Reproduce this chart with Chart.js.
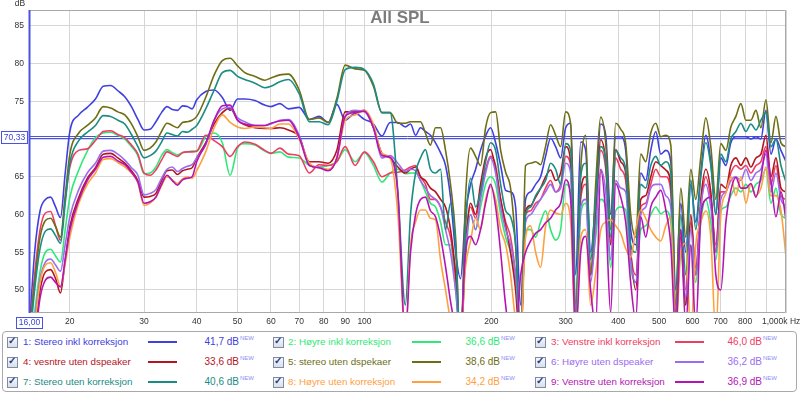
<!DOCTYPE html>
<html>
<head>
<meta charset="utf-8">
<title>All SPL</title>
<script src="https://cdn.jsdelivr.net/npm/chart.js@4.4.1/dist/chart.umd.min.js"></script>
<style>
  html, body { margin: 0; padding: 0; background: #fff; }
  #page { position: relative; width: 800px; height: 394px; overflow: hidden; font-family: "Liberation Sans", Arial, sans-serif; }
  #plot { position: absolute; left: 0; top: 0; width: 800px; height: 331px; }
  #legend { position: absolute; left: 2px; top: 331px; width: 793px; height: 59px; border: 1px solid #a9a9a9; border-radius: 4px; }
  .cb { position: absolute; width: 9px; height: 9px; border: 1px solid #7d8ca3; background: linear-gradient(#f6f7fa, #d9dee8); }
  .cb span { position: absolute; left: 0px; top: -3px; font-size: 10px; font-weight: bold; color: #263c8c; }
  .lbl { position: absolute; font-size: 9.8px; line-height: 14px; white-space: nowrap; }
  .smp { position: absolute; width: 29px; height: 2px; }
  .val { position: absolute; width: 60px; font-size: 10px; line-height: 14px; text-align: right; white-space: nowrap; }
  .new { position: absolute; font-size: 6px; line-height: 8px; color: #8d8df2; }
</style>
</head>
<body>
<div id="page">
  <div id="plot"><canvas id="spl"></canvas></div>
  <div id="legend"></div>
</div>
<script>
// frequencies (Hz) shared by all traces
const freqs = [16, 16.5, 17, 17.5, 18, 18.5, 19, 19.5, 20, 21,
  22, 23, 24, 25, 26, 27, 28, 29, 30, 31,
  32, 33, 34, 35, 36, 37, 38, 39, 40, 42,
  44, 46, 48, 50, 52, 55, 58, 60, 63, 66,
  70, 74, 78, 82, 86, 90, 95, 100, 105, 110,
  115, 120,
  125, 128.6, 132.2, 135.8, 139.5, 143.4, 147.4, 151.5, 155.7, 160,
  164.5, 169, 173.6, 178.5, 183.5, 188.5, 193.8, 199.1, 204.7, 210.4,
  216.2, 222.1, 228.3, 234.7, 241.1, 247.8, 254.7, 261.7, 268.9, 276.4,
  284.1, 292, 300.1, 308.4, 317, 325.8, 334.8, 344, 353.6, 363.4,
  373.5, 383.8, 394.4, 405.4, 416.6, 428.1, 440.1, 452.3, 464.8, 477.7,
  491, 504.6, 518.6, 532.9, 547.6, 562.8, 578.4, 594.5, 610.9, 627.9,
  645.2, 663.1, 681.6, 700.4, 720, 739.8, 760.5, 781.5, 803.2, 825.5,
  848.5, 872, 896.2, 921, 946.6, 972.8, 1000];

// SPL in dB, one array per measurement
const stereoInkl = [44, 55, 60.5, 62, 62.3, 61, 59.6, 65.5, 71, 73.2,
  74.2, 75.3, 77, 77.1, 76.4, 75.6, 74.3, 72.6, 71.2, 71.3,
  72.3, 73.5, 74.3, 73.9, 73.8, 74.4, 74.3, 74, 75.2, 76.3,
  76.5, 75.5, 73.8, 75.3, 75.3, 75.1, 74.5, 74.3, 74.7, 74,
  74.2, 72.6, 73, 72.2, 74.6, 72.5, 73.4, 72.6, 72, 70.4,
  72.2, 72.2,
  71.6, 72, 70.5, 71.5, 71, 70.5, 69.5, 68.2, 66.5, 62.3,
  55, 51.5, 60, 64, 66, 68.5, 70.4, 71.5, 69.5, 66.5,
  63.2, 63, 61, 48, 62, 63, 64, 65, 67.7, 70.1,
  69, 67.5, 71.5, 72.1, 52, 69.6, 68.5, 55, 62, 72,
  70.5, 60, 70.3, 70.3, 68.5, 58, 56, 65.5, 64.5, 68.5,
  71, 68, 68.5, 67, 50, 61.5, 55, 64, 59, 65.5,
  70.5, 67, 60, 67.5, 66.5, 69.5, 70.3, 70.3, 70.3, 70,
  70.3, 70, 73.8, 68, 70, 68.5, 67];

const hoyreInkl = [41, 47, 52.5, 55, 55.4, 54.5, 53.7, 58, 62.3, 65.9,
  68.4, 70.2, 70.8, 70.9, 70.5, 70, 69, 67.8, 65.4, 65.5,
  66.3, 67.8, 68.6, 68.2, 67.9, 68.2, 68.3, 68.4, 68.4, 70.3,
  70.8, 69.5, 65.2, 68.8, 69.4, 69.2, 68.4, 68.1, 68.3, 67.6,
  67.5, 66.5, 66.3, 66.5, 67, 68.6, 67, 68.2, 66.5, 64.3,
  65.5, 66,
  65.4, 65.5, 65.5, 64.5, 63, 61.5, 61, 59, 56, 56,
  50, 44, 54, 60, 58, 61, 64, 65, 64, 60,
  57, 55, 51, 44, 58, 58, 57, 59, 60.5, 58,
  56.6, 58, 64, 63, 46, 60, 61.5, 52, 57, 62,
  61, 53, 60.5, 61, 60.6, 53, 51, 58, 58.5, 60,
  61, 60.1, 60.5, 59, 46, 55, 48, 56, 51, 59,
  62, 59, 54, 60.5, 61, 62.5, 63.5, 63, 64, 63,
  64, 64.5, 66, 61.5, 63.5, 60, 59.5];

const venstreInkl = [43, 52, 58, 60.2, 60.4, 58.5, 56.6, 62, 66.3, 68.5,
  68.7, 69.8, 71, 71.1, 70.6, 70.2, 69.2, 68, 65.5, 65.2,
  65.9, 67.2, 68.3, 68, 67.7, 68.2, 68.3, 68.3, 68.4, 70.5,
  69.8, 69, 67.7, 69, 69.6, 69.3, 68.5, 68.1, 68.8, 68,
  67.8, 65.5, 66.6, 66.5, 67, 69, 66.5, 68.3, 67, 65,
  65.5, 65.6,
  65.9, 66.3, 66.5, 65, 64, 62, 62, 61, 59, 57,
  52, 44, 56, 61, 59.5, 63, 66, 67.7, 66.5, 62,
  59, 57, 52, 44, 60, 60.5, 61.5, 62, 63.5, 64.5,
  63, 64, 67.7, 66.5, 47, 62, 64, 52, 59, 68.5,
  66, 56, 67.5, 66, 64.5, 55, 52, 61, 61.5, 64,
  66, 65, 65, 63, 47, 57, 50, 59, 53, 61,
  65, 62, 56, 63, 63, 65.5, 66.5, 66, 66.5, 65.5,
  66.5, 67, 69, 64, 66.5, 62.5, 62];

const venstreUtenDsp = [38, 44, 50, 52.4, 52.7, 51.5, 49.6, 54, 58.4, 62.3,
  64.8, 66.2, 68, 68.1, 67.5, 66.8, 65.8, 64.5, 62.3, 62.4,
  62.8, 64.5, 65.8, 65.9, 65.3, 65.8, 66, 66.2, 67.5, 69.5,
  72, 73.5, 74.1, 72.5, 71.9, 71.5, 71.4, 71.4, 71.5, 71.2,
  70.3, 67, 67, 66.8, 68.5, 73.6, 73.6, 73.8, 71.5, 68.1,
  67.5, 66.3,
  65.5, 66, 66.3, 65, 64.5, 63.5, 63, 62, 61, 58,
  52, 42, 55, 61.5, 60, 64, 67.5, 68.6, 66, 62,
  58.5, 55, 50, 42, 60.5, 61.2, 62.3, 63.5, 65, 65.9,
  64.5, 65.5, 69, 67, 45, 63, 65, 52, 60, 69.9,
  67, 56, 68.6, 67, 65.5, 55, 50, 62, 62.5, 65,
  67, 66.5, 65.9, 64, 46, 58, 48, 60, 52, 62,
  66, 63, 55, 64, 63.5, 66.5, 67.5, 66.5, 67.5, 66.3,
  67.5, 68, 70.5, 65, 67.5, 63.5, 63];

const stereoUtenDsp = [43, 51, 57, 59.2, 59.5, 58.4, 57, 62.5, 68, 70.8,
  71.8, 72.8, 74.3, 74.1, 73.6, 73.2, 72, 70.3, 68.5, 68.8,
  69.6, 71, 72.1, 71.8, 71.5, 72.2, 72.3, 72.5, 73, 75.5,
  78.5, 80.4, 80.7, 79.7, 78.8, 78.3, 77.8, 78.1, 78.5, 78.6,
  76.5, 72.6, 72.8, 72.2, 75.4, 79.8, 79.3, 79.1, 77, 73.5,
  73.5, 72.1,
  72.1, 72.3, 72.3, 72.3, 70.8, 69.2, 71.5, 71.5, 68.5, 64,
  57, 42, 62, 68.8, 67.7, 66.5, 71.5, 73.5, 73.6, 68.5,
  65.6, 63.5, 56, 44, 66.5, 66.8, 67, 66.6, 69, 71.9,
  70.5, 69, 73.6, 72, 48, 66, 70.5, 52, 64, 72.9,
  69.5, 58, 72.1, 71.3, 69.4, 60, 57, 68, 67, 70.8,
  72.1, 70.3, 70.5, 69.2, 48, 63.5, 57, 66, 62, 67.6,
  72.8, 69, 62, 69.4, 68.5, 71.6, 73, 74.7, 72.5, 72.5,
  73.8, 71.5, 75.2, 69.5, 73, 69.5, 69];

const hoyreUtenDsp = [40, 46, 51.5, 53.7, 54.1, 53.3, 52.5, 56, 59.7, 63.3,
  65.5, 66.8, 68.4, 68.5, 68, 67.2, 66.2, 65.2, 62.6, 62.8,
  63.3, 64.8, 66, 66.3, 65.7, 66.1, 66.4, 66.6, 67.5, 69.2,
  72.5, 74, 74.2, 72.8, 72.3, 71.8, 71.8, 72, 72.5, 72.6,
  70.5, 66.5, 66.3, 65.9, 67.5, 73, 73.8, 73.6, 71.5, 67.5,
  67.8, 66.8,
  65.7, 66, 65.8, 64.5, 63.5, 62.5, 62, 61, 58, 55,
  50, 44, 55, 60, 58, 62, 65.5, 67.5, 65.5, 61,
  58, 56, 52, 44, 59, 60, 61, 62, 63, 64,
  63, 63.5, 66.8, 65.5, 47, 61, 62, 51, 58, 66,
  63, 54, 64.5, 63.5, 63, 54, 51, 60, 61, 63.5,
  64, 64, 62.5, 61, 46, 56, 49, 58, 52, 61,
  64, 61, 55, 62, 63, 64.5, 65, 64.5, 66, 64.5,
  65.5, 66, 68, 63, 65.5, 62, 61];

const stereoUten = [42, 50, 55.5, 57.8, 58.1, 57.2, 56.2, 61.5, 66.8, 69.8,
  70.9, 71.8, 73.1, 73, 72.5, 72, 70.6, 69, 67.5, 67.8,
  68.4, 69.6, 70.8, 70.6, 70.4, 71, 70.9, 71.3, 71.8, 74,
  76.5, 78.8, 79.1, 78.3, 77.9, 77.4, 76.8, 77, 77.6, 77.9,
  76, 72.3, 72.3, 71.9, 75, 79.2, 79.5, 79.2, 77.3, 73.5,
  73.5, 63,
  48, 60, 65.5, 67.5, 68.6, 66, 65.5, 66, 58, 61.5,
  56, 42, 58, 64.8, 61, 63, 67, 69.5, 68.5, 64,
  60.5, 59.7, 56, 44, 60, 61, 62.5, 63.5, 64.5, 66.8,
  66, 64, 69.4, 68.5, 46, 65, 66.8, 54, 62, 69,
  67, 57, 68.5, 67.5, 66, 56, 55, 64, 63.5, 66.5,
  67.7, 66.5, 67, 65.5, 44, 60, 52, 64.6, 58, 65,
  69.5, 66.5, 60, 68, 67, 70, 71, 72.1, 71, 72,
  71.2, 72.5, 73.5, 69, 70, 66.5, 64.3];

const hoyreUten = [39, 45, 51, 53.3, 53.6, 52.3, 50.5, 53.5, 57, 61.5,
  64, 65.5, 67.3, 67.4, 66.9, 66.3, 65.5, 64.2, 61.2, 61.5,
  62.3, 63.8, 65, 64.6, 64.1, 64.7, 65, 64.8, 65.8, 68.3,
  71.5, 73.2, 72.2, 71.6, 71.4, 71.6, 71.5, 71.4, 72, 72,
  70, 66.8, 66.2, 66, 67.5, 72.5, 73.2, 73.8, 72, 68.1,
  67.5, 60,
  44, 56, 59, 60.6, 60.6, 59.5, 59.3, 54, 50, 46,
  44, 44, 53, 56.5, 59.5, 58, 62, 63.7, 62, 58,
  56, 52, 46, 44, 57, 58.5, 55, 53, 58.4, 60.6,
  60.2, 60, 61.5, 59, 44, 57, 58, 48, 52.2, 57.9,
  59, 59.3, 58.5, 57.5, 55.5, 54.3, 58, 60.6, 59.5, 58,
  57, 56.5, 58.5, 59.7, 44, 55, 56.2, 44, 56, 59,
  60.5, 57, 44, 60, 62.8, 65, 62.5, 65, 61.5, 64,
  62.5, 63.5, 66.3, 62.5, 62.5, 60.5, 54.4];

const venstreUten = [38, 43, 49, 51.3, 51.7, 51, 50.4, 54, 57.9, 61.9,
  64.5, 66, 67.6, 67.7, 67.1, 66.6, 65.6, 64.3, 61.5, 61.7,
  62.3, 64, 65.2, 64.5, 63.9, 64.6, 64.8, 65, 67, 69.4,
  72.5, 74.4, 74.5, 72.5, 72, 71.8, 71.8, 72.1, 72.4, 72.5,
  70.2, 66.5, 66.2, 65.8, 67.5, 73, 73.5, 73.7, 71.5, 67.8,
  67.6, 62.8,
  44, 55, 60, 62, 62.3, 60.5, 59.7, 57, 53.1, 48.5,
  45, 44, 55, 57.1, 56, 58, 61.5, 64, 61, 55,
  48, 44, 44, 52, 55, 56.5, 57.5, 58, 58.9, 59.5,
  60.6, 61.5, 64.6, 62, 44, 55, 57.1, 50, 45, 65.9,
  60, 47, 64.1, 62.3, 59, 51, 46, 59.7, 57, 61,
  62.3, 63.2, 60.6, 56, 44, 58, 45, 56, 45, 59.7,
  62, 62.3, 52, 50, 59, 63.2, 64.9, 63.5, 63.5, 64.1,
  62.3, 65, 68.5, 64.5, 59.7, 63, 59.3];

const seriesNames = ['1: Stereo inkl korreksjon', '2: Høyre inkl korreksjon', '3: Venstre inkl korreksjon',
  '4: vesntre uten dspeaker', '5: stereo uten dspekaer', '6: Høyre uten dspeaker',
  '7: Stereo uten korreksjon', '8: Høyre uten korreksjon', '9: Venstre uten korreksjon'];
const seriesColors = ['#4040e0', '#30e878', '#f03c64', '#b4141e', '#6e6e14', '#9b6cf0', '#1a8c84', '#ffa040', '#b414b4'];
const seriesLevels = ['41,7', '36,6', '46,0', '33,6', '38,6', '36,2', '40,6', '34,2', '36,9'];

const xTicks = [20, 30, 40, 50, 60, 70, 80, 90, 100, 200, 300, 400, 500, 600, 700, 800, 900, 1000];
const xTickLabels = ['20', '30', '40', '50', '60', '70', '80', '90', '100', '200', '300', '400', '500', '600', '700', '800', '', ''];
const yTicks = [50, 55, 60, 65, 70, 75, 80, 85];
const cursorDb = 70.33;
const cursorHz = 16;

const series = [stereoInkl, hoyreInkl, venstreInkl, venstreUtenDsp, stereoUtenDsp,
  hoyreUtenDsp, stereoUten, hoyreUten, venstreUten];

const FONT = 'Liberation Sans, Arial, sans-serif';

// REW style frame, cursors and captions
const rewDecor = {
  id: 'rewDecor',
  beforeDatasetsDraw(chart) {
    const { ctx, chartArea: a, scales: { y } } = chart;
    const yc = Math.round(y.getPixelForValue(cursorDb)) + 0.5;
    ctx.save();
    ctx.strokeStyle = '#4a52e2';
    ctx.lineWidth = 1;
    ctx.beginPath();
    ctx.moveTo(a.left, yc - 1); ctx.lineTo(a.right, yc - 1);
    ctx.moveTo(a.left, yc + 1); ctx.lineTo(a.right, yc + 1);
    ctx.stroke();
    ctx.restore();
  },
  afterDraw(chart) {
    const { ctx, chartArea: a, scales: { x, y } } = chart;
    ctx.save();
    // frame
    ctx.strokeStyle = '#a8a8a8';
    ctx.lineWidth = 1;
    ctx.beginPath();
    ctx.moveTo(a.left, a.top + 0.5); ctx.lineTo(a.right - 0.5, a.top + 0.5);
    ctx.lineTo(a.right - 0.5, a.bottom - 0.5); ctx.lineTo(a.left, a.bottom - 0.5);
    ctx.stroke();
    // frequency cursor
    const xc = Math.round(x.getPixelForValue(cursorHz)) + 0.5;
    ctx.strokeStyle = '#4a52e2';
    ctx.lineWidth = 2;
    ctx.beginPath();
    ctx.moveTo(xc, a.top); ctx.lineTo(xc, a.bottom);
    ctx.stroke();

    // cursor value boxes
    const yc = Math.round(y.getPixelForValue(cursorDb));
    ctx.lineWidth = 1;
    ctx.fillStyle = '#fff';
    ctx.strokeStyle = '#4a52e2';
    ctx.fillRect(1.5, yc - 5.5, 26, 12);
    ctx.strokeRect(1.5, yc - 5.5, 26, 12);
    ctx.fillRect(16.5, a.bottom + 4.5, 26, 11);
    ctx.strokeRect(16.5, a.bottom + 4.5, 26, 11);
    ctx.fillStyle = '#3a44d8';
    ctx.font = '8.5px ' + FONT;
    ctx.textAlign = 'center';
    ctx.textBaseline = 'middle';
    ctx.fillText('70,33', 14.5, yc + 0.5);
    ctx.fillText('16,00', 29.5, a.bottom + 10);

    // axis captions
    ctx.fillStyle = '#333';
    ctx.font = '8.5px ' + FONT;
    ctx.fillText('dB', 20, 4);
    ctx.textAlign = 'left';
    ctx.fillText('1,000k Hz', 762, a.bottom + 9);

    // title
    ctx.fillStyle = '#7c7c7c';
    ctx.font = 'bold 17px ' + FONT;
    ctx.textAlign = 'center';
    ctx.fillText('All SPL', 400, 18.5);
    ctx.restore();
  }
};

new Chart(document.getElementById('spl'), {
  type: 'line',
  data: {
    datasets: series.map((vals, i) => ({
      label: seriesNames[i],
      data: freqs.map((f, k) => ({ x: f, y: vals[k] })),
      borderColor: seriesColors[i],
      backgroundColor: seriesColors[i],
      borderWidth: 1.6,
      pointRadius: 0,
      cubicInterpolationMode: 'monotone',
      order: series.length - i
    }))
  },
  options: {
    responsive: true,
    maintainAspectRatio: false,
    animation: false,
    devicePixelRatio: 1,
    layout: { padding: { left: 0, right: 14, top: 10, bottom: 0 } },
    plugins: { legend: { display: false }, tooltip: { enabled: false } },
    scales: {
      x: {
        type: 'logarithmic',
        min: 16,
        max: 1000,
        border: { display: false },
        grid: { color: '#d6d6d6', drawTicks: false },
        ticks: {
          autoSkip: false, maxRotation: 0, minRotation: 0, padding: 4,
          color: '#333', font: { family: FONT, size: 8.5 },
          callback: (v, i) => xTickLabels[i]
        },
        afterBuildTicks: s => { s.ticks = xTicks.map(v => ({ value: v })); },
        afterFit: s => { s.height = 18; s.paddingLeft = 0; s.paddingRight = 0; }
      },
      y: {
        min: 46.95,
        max: 87.1,
        border: { display: false },
        grid: { color: '#d6d6d6', drawTicks: false },
        ticks: {
          padding: 5, color: '#333', font: { family: FONT, size: 8.5 },
          callback: v => (v === 70 ? '' : String(v))
        },
        afterBuildTicks: s => { s.ticks = yTicks.map(v => ({ value: v })); },
        afterFit: s => { s.width = 29; s.paddingTop = 0; s.paddingBottom = 0; }
      }
    }
  },
  plugins: [rewDecor]
});

// legend panel
const page = document.getElementById('page');
const cbX = [7, 273, 535];
const lblX = [23, 288, 551];
const smpX = [148, 412, 675];
const valEnd = [239, 500, 762];
const rowY = [341.5, 361.7, 381.7];

seriesNames.forEach((name, i) => {
  const c = i % 3, r = Math.floor(i / 3), cy = rowY[r];
  const col = seriesColors[i];
  const add = (cls, css, html) => {
    const d = document.createElement('div');
    d.className = cls;
    Object.assign(d.style, css);
    if (html) d.innerHTML = html;
    page.appendChild(d);
    return d;
  };
  add('cb', { left: cbX[c] + 'px', top: (cy - 5) + 'px' }, '<span>✓</span>');
  add('lbl', { left: lblX[c] + 'px', top: (cy - 7) + 'px', color: col }).textContent = name;
  add('smp', { left: smpX[c] + 'px', top: (cy - 1) + 'px', background: col });
  add('val', { left: (valEnd[c] - 60) + 'px', top: (cy - 7) + 'px', color: col }).textContent = seriesLevels[i] + ' dB';
  add('new', { left: (valEnd[c] + 1) + 'px', top: (cy - 8) + 'px' }).textContent = 'NEW';
});
</script>
</body>
</html>
